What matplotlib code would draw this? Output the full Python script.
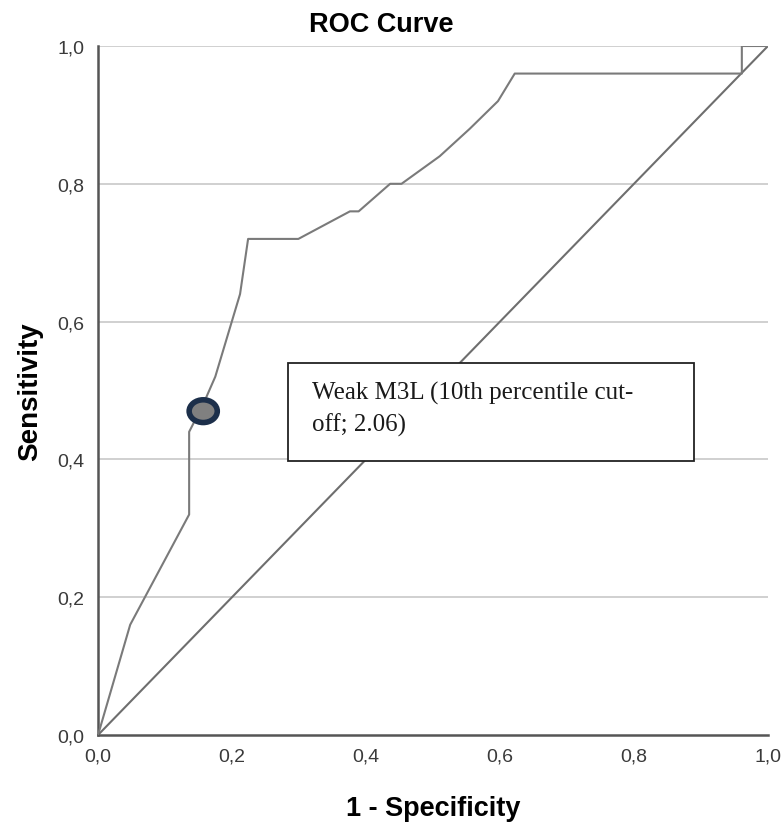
import matplotlib.pyplot as plt
from matplotlib.patches import Ellipse
from matplotlib.ticker import FuncFormatter

# ROC curve points
fpr = [0.0, 0.048, 0.136, 0.136, 0.157, 0.175, 0.212, 0.224, 0.299, 0.376, 0.389,
       0.436, 0.453, 0.51, 0.555, 0.597, 0.622, 0.961, 0.961, 1.0]
tpr = [0.0, 0.16, 0.32, 0.44, 0.48, 0.52, 0.64, 0.72, 0.72, 0.76, 0.76,
       0.80, 0.80, 0.84, 0.88, 0.92, 0.96, 0.96, 1.0, 1.0]
cut_x, cut_y = 0.157, 0.47
ticks = [0.0, 0.2, 0.4, 0.6, 0.8, 1.0]
note = "Weak M3L (10th percentile cut-\noff; 2.06)"

plt.rcParams['font.family'] = ['Liberation Sans', 'DejaVu Sans']

fig = plt.figure(figsize=(7.83, 8.29), dpi=100)
ax = fig.add_axes([0.1252, 0.1122, 0.8556, 0.8311])

for t in ticks[1:]:
  ax.axhline(t, color='#c8c8c8', lw=1.2, zorder=1)

ax.plot([0, 1], [0, 1], color='#6e6e6e', lw=1.5, zorder=2)
ax.plot(fpr, tpr, color='#7a7a7a', lw=1.5, zorder=3)

ax.add_patch(Ellipse((cut_x, cut_y), 0.042, 0.033, facecolor='#808080',
                     edgecolor='#1c2f4a', lw=4, zorder=5))

# annotation box
ax.add_patch(plt.Rectangle((0.283, 0.397), 0.606, 0.540 - 0.397, facecolor='white',
                           edgecolor='#222222', lw=1.3, zorder=6))
ax.text(0.320, 0.474, note, family=['Liberation Serif'], fontsize=18,
        color='#1a1a1a', va='center', ha='left', linespacing=1.5, zorder=7)

ax.set_xlim(0, 1)
ax.set_ylim(0, 1)
ax.set_xticks(ticks)
ax.set_yticks(ticks)
fmt = FuncFormatter(lambda v, p: f'{v:.1f}'.replace('.', ','))
ax.xaxis.set_major_formatter(fmt)
ax.yaxis.set_major_formatter(fmt)
ax.tick_params(length=0, labelsize=14, colors='#3a3a3a')
ax.tick_params(axis='x', pad=9)
ax.tick_params(axis='y', pad=10)

for s in ['top', 'right']:
  ax.spines[s].set_visible(False)
for s in ['left', 'bottom']:
  ax.spines[s].set_color('#555555')
  ax.spines[s].set_linewidth(1.8)

fig.text(381 / 783, 1 - 25 / 829, 'ROC Curve', fontsize=19.5, fontweight='bold',
         ha='center', va='center')
ax.set_xlabel('1 - Specificity', fontsize=19.5, fontweight='bold', labelpad=22)
ax.set_ylabel('Sensitivity', fontsize=20, fontweight='bold', labelpad=10)

fig.savefig('out.png', dpi=100)
